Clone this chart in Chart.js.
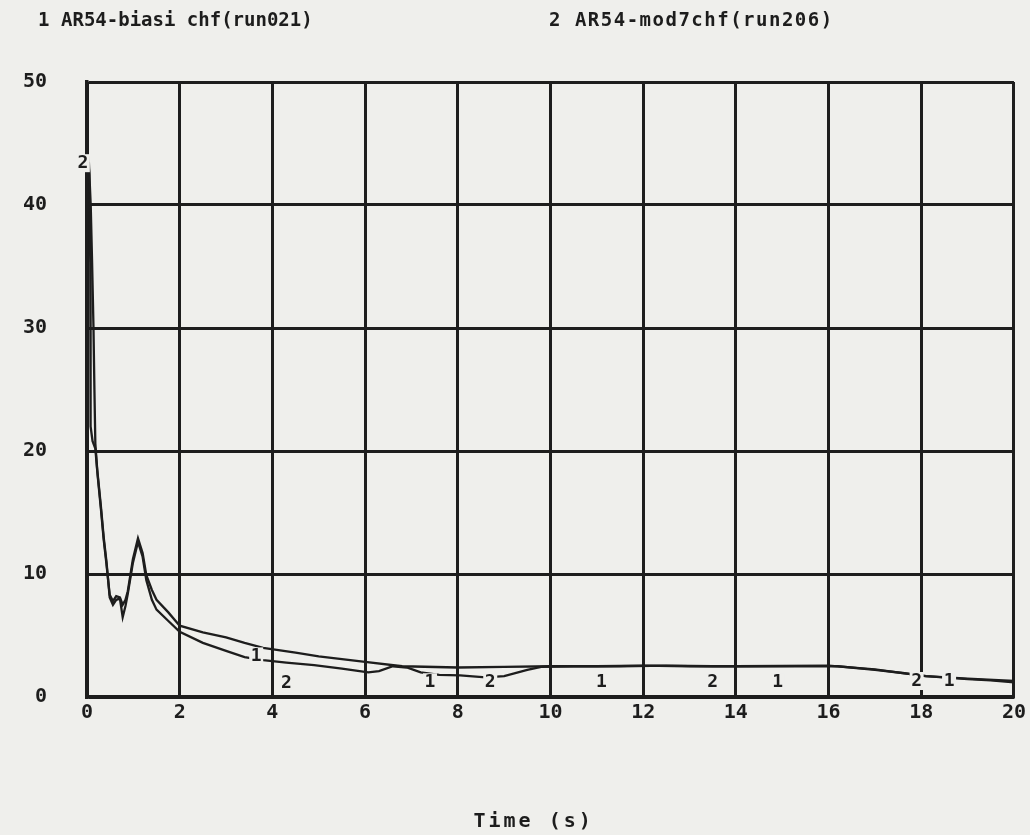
<!DOCTYPE html>
<html>
<head>
<meta charset="utf-8">
<script src="https://cdn.jsdelivr.net/npm/chart.js@4.4.0/dist/chart.umd.min.js"></script>
<style>
  html, body { margin: 0; padding: 0; background: #efefec; }
  #wrap { position: relative; width: 1030px; height: 835px; }
  canvas { display: block; }
</style>
</head>
<body>
<div id="wrap"><canvas id="c" width="1030" height="835"></canvas></div>
<script>
// ---- data ----
const seriesNames = ["AR54-biasi chf(run021)", "AR54-mod7chf(run206)"];
const xTitle = "Time (s)";

const t1 = [0.04, 0.08, 0.11, 0.14, 0.16, 0.18, 0.22, 0.30, 0.36, 0.42, 0.49, 0.56, 0.63, 0.71, 0.77, 0.83, 0.88, 0.99, 1.10, 1.20, 1.28, 1.40, 1.50, 1.75, 2.00, 2.50, 3.00, 3.40, 3.80, 4.30, 4.90, 5.50, 6.07, 6.30, 6.60, 6.90, 7.20, 7.60, 8.05, 8.60, 9.00, 9.50, 9.80, 10.5, 11.5, 12.5, 13.5, 14.5, 15.5, 16.2, 17.0, 17.6, 18.1, 19.0, 19.5, 20.0];
const v1 = [43.5, 40.0, 35.3, 30.0, 25.0, 20.6, 18.5, 15.5, 13.0, 11.0, 8.1, 7.5, 7.9, 8.0, 6.5, 7.4, 8.4, 10.9, 12.6, 11.4, 9.5, 7.9, 7.1, 6.2, 5.3, 4.4, 3.75, 3.25, 3.0, 2.8, 2.6, 2.3, 2.0, 2.1, 2.5, 2.4, 2.0, 1.8, 1.75, 1.6, 1.7, 2.2, 2.45, 2.5, 2.5, 2.55, 2.5, 2.5, 2.5, 2.5, 2.2, 1.95, 1.7, 1.45, 1.35, 1.2];

const t2 = [0.02, 0.05, 0.07, 0.075, 0.08, 0.12, 0.18, 0.23, 0.30, 0.36, 0.42, 0.49, 0.56, 0.63, 0.71, 0.77, 0.83, 0.88, 0.99, 1.10, 1.20, 1.28, 1.40, 1.50, 1.75, 2.00, 2.50, 3.00, 3.40, 3.80, 4.50, 5.00, 6.00, 6.80, 8.00, 9.00, 10.0, 11.0, 12.0, 13.0, 14.0, 16.0, 17.0, 17.6, 18.1, 19.0, 20.0];
const v2 = [44.0, 42.5, 35.3, 28.0, 22.0, 20.8, 20.2, 18.0, 15.3, 12.8, 10.8, 8.3, 7.8, 8.2, 8.1, 7.5, 7.9, 8.6, 11.2, 12.9, 11.7, 9.9, 8.7, 7.9, 6.9, 5.8, 5.25, 4.85, 4.4, 4.0, 3.6, 3.3, 2.85, 2.5, 2.4, 2.45, 2.5, 2.5, 2.55, 2.5, 2.5, 2.55, 2.25, 1.95, 1.7, 1.5, 1.3];

// curve identifier labels (data coordinates)
const tag1X = [3.65, 7.4, 11.1, 14.9, 18.6];
const tag1Y = [3.3, 1.2, 1.2, 1.2, 1.3];
const tag2X = [-0.09, 4.3, 8.7, 13.5, 17.9];
const tag2Y = [43.4, 1.1, 1.2, 1.2, 1.3];

const xTicks = [0, 2, 4, 6, 8, 10, 12, 14, 16, 18, 20];
const yTicks = [0, 10, 20, 30, 40, 50];

// ---- styles ----
const INK = '#1d1d1d';
const BG = '#efefec';
const FONT = "'DejaVu Sans Mono', 'Liberation Mono', monospace";

const zip = (xs, ys) => xs.map((x, i) => ({ x: x, y: ys[i] }));

const overlay = {
  id: 'overlay',
  afterDatasetsDraw(chart) {
    const { ctx, chartArea, scales } = chart;
    ctx.save();
    ctx.font = "bold 18px " + FONT;
    ctx.textAlign = 'center';
    ctx.textBaseline = 'middle';
    const drawTags = (xs, ys, txt) => {
      xs.forEach((x, i) => {
        const px = scales.x.getPixelForValue(x);
        const py = scales.y.getPixelForValue(ys[i]);
        ctx.fillStyle = BG;
        ctx.fillRect(px - 7, py - 9, 14, 18);
        ctx.fillStyle = INK;
        ctx.fillText(txt, px, py);
      });
    };
    drawTags(tag1X, tag1Y, '1');
    drawTags(tag2X, tag2Y, '2');

    // header (series key)
    ctx.textAlign = 'left';
    ctx.font = "bold 19px " + FONT;
    ctx.fillText('1', 38, 21);
    ctx.fillText(seriesNames[0], 61, 21);
    ctx.letterSpacing = '1.5px';
    ctx.fillText('2 ' + seriesNames[1], 549, 21);

    // x-axis title
    ctx.font = "bold 20px " + FONT;
    ctx.letterSpacing = '3px';
    ctx.textAlign = 'left';
    ctx.fillText(xTitle, (chartArea.left + chartArea.right) / 2 - 77, 822);
    ctx.restore();
  }
};

new Chart(document.getElementById('c'), {
  type: 'scatter',
  data: {
    datasets: [
      { label: seriesNames[0], data: zip(t1, v1), showLine: true, borderColor: INK, borderWidth: 2.3, pointRadius: 0, tension: 0 },
      { label: seriesNames[1], data: zip(t2, v2), showLine: true, borderColor: INK, borderWidth: 2.3, pointRadius: 0, tension: 0 }
    ]
  },
  options: {
    responsive: false,
    animation: false,
    layout: { padding: { top: 82, right: 12, left: 0, bottom: 0 } },
    plugins: { legend: { display: false }, tooltip: { enabled: false } },
    scales: {
      x: {
        type: 'linear', min: 0, max: 20,
        afterBuildTicks: s => { s.ticks = xTicks.map(v => ({ value: v })); },
        afterFit: s => { s.height = 138; },
        ticks: { color: INK, font: { family: FONT, size: 20, weight: 'bold' }, padding: 4, maxRotation: 0, autoSkip: false },
        grid: { color: INK, lineWidth: 3, drawTicks: false },
        border: { color: INK, width: 3.5 }
      },
      y: {
        type: 'linear', min: 0, max: 50,
        afterBuildTicks: s => { s.ticks = yTicks.map(v => ({ value: v })); },
        afterFit: s => { s.width = 87; },
        ticks: { color: INK, font: { family: FONT, size: 20, weight: 'bold' }, padding: 40 },
        grid: { color: INK, lineWidth: 3, drawTicks: false },
        border: { color: INK, width: 3.5 }
      }
    }
  },
  plugins: [overlay]
});
</script>
</body>
</html>
